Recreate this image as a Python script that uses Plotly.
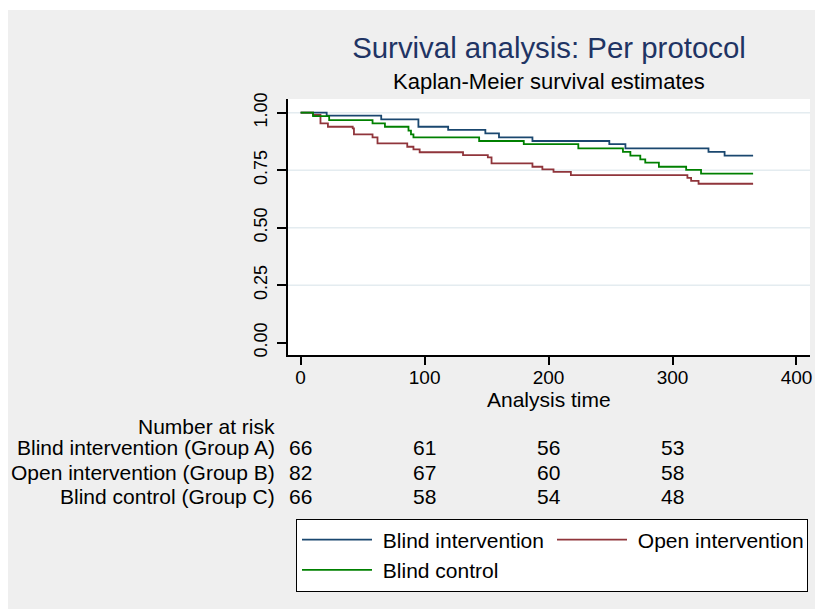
import plotly.graph_objects as go

# ---- data ----
blind_int_t = [0, 21, 65, 95, 119, 149, 160, 187, 249, 262, 329, 342, 365]
blind_int_s = [1.0, 0.987, 0.971, 0.939, 0.925, 0.910, 0.893, 0.877, 0.863, 0.845, 0.830, 0.813, 0.813]

open_int_t = [0, 10, 16, 22, 42, 43, 58, 62, 86, 91, 96, 131, 151, 154, 187, 195, 204, 218, 312, 315, 321, 365]
open_int_s = [1.0, 0.99, 0.954, 0.939, 0.932, 0.906, 0.893, 0.867, 0.852, 0.841, 0.828, 0.816, 0.806, 0.78,
              0.765, 0.754, 0.743, 0.729, 0.717, 0.704, 0.691, 0.691]

blind_ctrl_t = [0, 10, 23, 58, 68, 87, 89, 91, 144, 180, 224, 260, 266, 274, 278, 289, 311, 323, 365]
blind_ctrl_s = [1.0, 0.985, 0.968, 0.954, 0.939, 0.922, 0.906, 0.893, 0.877, 0.863, 0.845, 0.830, 0.813,
                0.797, 0.783, 0.765, 0.751, 0.735, 0.735]

series_names = ["Blind intervention", "Open intervention", "Blind control"]
risk_labels = ["Blind intervention (Group A)", "Open intervention (Group B)", "Blind control (Group C)"]
risk_times = [0, 100, 200, 300]
risk_blind_int = [66, 61, 56, 53]
risk_open_int = [82, 67, 60, 58]
risk_blind_ctrl = [66, 58, 54, 48]

x_ticks = [0, 100, 200, 300, 400]
y_ticks = [0.0, 0.25, 0.5, 0.75, 1.0]
y_ticktext = ["0.00", "0.25", "0.50", "0.75", "1.00"]

# ---- styling ----
FONT = "Liberation Sans, Arial, Helvetica, sans-serif"
colors = ["#1a476f", "#90353b", "#008000"]
OFF = 8                      # page body margin
W, H = 815, 601
L, T = 288 - OFF, 99 - OFF
R = W - (810 - OFF)
B = H - (355 - OFF)
PW, PH = W - L - R, H - T - B


def py(pix):  # page pixel row -> paper y
    return (H - B - (pix - OFF)) / PH


def px(pix):  # page pixel column -> paper x
    return (pix - OFF - L) / PW


fig = go.Figure()
for t, s, name, c in zip([blind_int_t, open_int_t, blind_ctrl_t],
                         [blind_int_s, open_int_s, blind_ctrl_s], series_names, colors):
    fig.add_trace(go.Scatter(x=t, y=s, mode="lines", name="\u00a0" + name,
                             line=dict(color=c, width=1.8, shape="hv")))

shapes = []
# horizontal grid lines (none at 0.00)
for v in y_ticks[1:]:
    shapes.append(dict(type="line", xref="paper", yref="y", x0=0, x1=1, y0=v, y1=v,
                       line=dict(color="#e4ecf0", width=1.6), layer="below"))
# thin white strip above the grey background
shapes.append(dict(type="rect", xref="paper", yref="paper", x0=px(0), x1=px(900), y0=py(0), y1=py(10),
                   fillcolor="white", line=dict(width=0), layer="below"))

annotations = []
annotations.append(dict(text="Kaplan-Meier survival estimates", xref="paper", yref="paper",
                        x=0.5, y=py(81.5), xanchor="center", yanchor="middle", showarrow=False,
                        font=dict(family=FONT, size=22, color="black")))
annotations.append(dict(text="Analysis time", xref="paper", yref="paper",
                        x=0.5, y=py(399), xanchor="center", yanchor="middle", showarrow=False,
                        font=dict(family=FONT, size=21, color="black")))
annotations.append(dict(text="Number at risk", xref="paper", yref="paper",
                        x=px(277), y=py(426), xanchor="right", yanchor="middle", showarrow=False,
                        font=dict(family=FONT, size=21, color="black")))
row_pix = [447.5, 472.5, 496.5]
for lab, counts, rp in zip(risk_labels, [risk_blind_int, risk_open_int, risk_blind_ctrl], row_pix):
    annotations.append(dict(text=lab, xref="paper", yref="paper", x=px(277), y=py(rp),
                            xanchor="right", yanchor="middle", showarrow=False,
                            font=dict(family=FONT, size=21, color="black")))
    for tt, n in zip(risk_times, counts):
        annotations.append(dict(text=str(n), xref="x", yref="paper", x=tt, y=py(rp),
                                xanchor="center", yanchor="middle", showarrow=False,
                                font=dict(family=FONT, size=21, color="black")))

fig.update_layout(
    width=W, height=H,
    margin=dict(l=L, r=R, t=T, b=B, pad=0),
    paper_bgcolor="#efefef", plot_bgcolor="white",
    font=dict(family=FONT, color="black"),
    title=dict(text="Survival analysis: Per protocol", x=0.5, xref="paper", xanchor="center",
               y=1 - (48 - OFF) / H, yref="container", yanchor="middle",
               font=dict(family=FONT, size=29.4, color="#1f3464")),
    shapes=shapes, annotations=annotations,
    showlegend=True,
    legend=dict(orientation="h", x=px(296), xanchor="left", y=py(518.5), yanchor="top",
                bgcolor="white", bordercolor="black", borderwidth=1,
                font=dict(family=FONT, size=21, color="black"),
                itemwidth=70, entrywidth=170, entrywidthmode="pixels",
                traceorder="normal"),
)
fig.update_xaxes(range=[-10.2, 410.9], tickvals=x_ticks, ticks="outside", ticklen=8, tickwidth=2,
                 tickcolor="black", showline=True, linecolor="black", linewidth=2,
                 showgrid=False, zeroline=False, ticklabelstandoff=-4,
                 tickfont=dict(family=FONT, size=19, color="black"))
fig.update_yaxes(range=[-0.0535, 1.0596], tickvals=y_ticks, ticktext=y_ticktext, tickangle=-90,
                 ticks="outside", ticklen=9, tickwidth=2, tickcolor="black", showline=True,
                 linecolor="black", linewidth=2, showgrid=False, zeroline=False, ticklabelstandoff=3,
                 tickfont=dict(family=FONT, size=18, color="black"))

fig.write_html("out.html")
